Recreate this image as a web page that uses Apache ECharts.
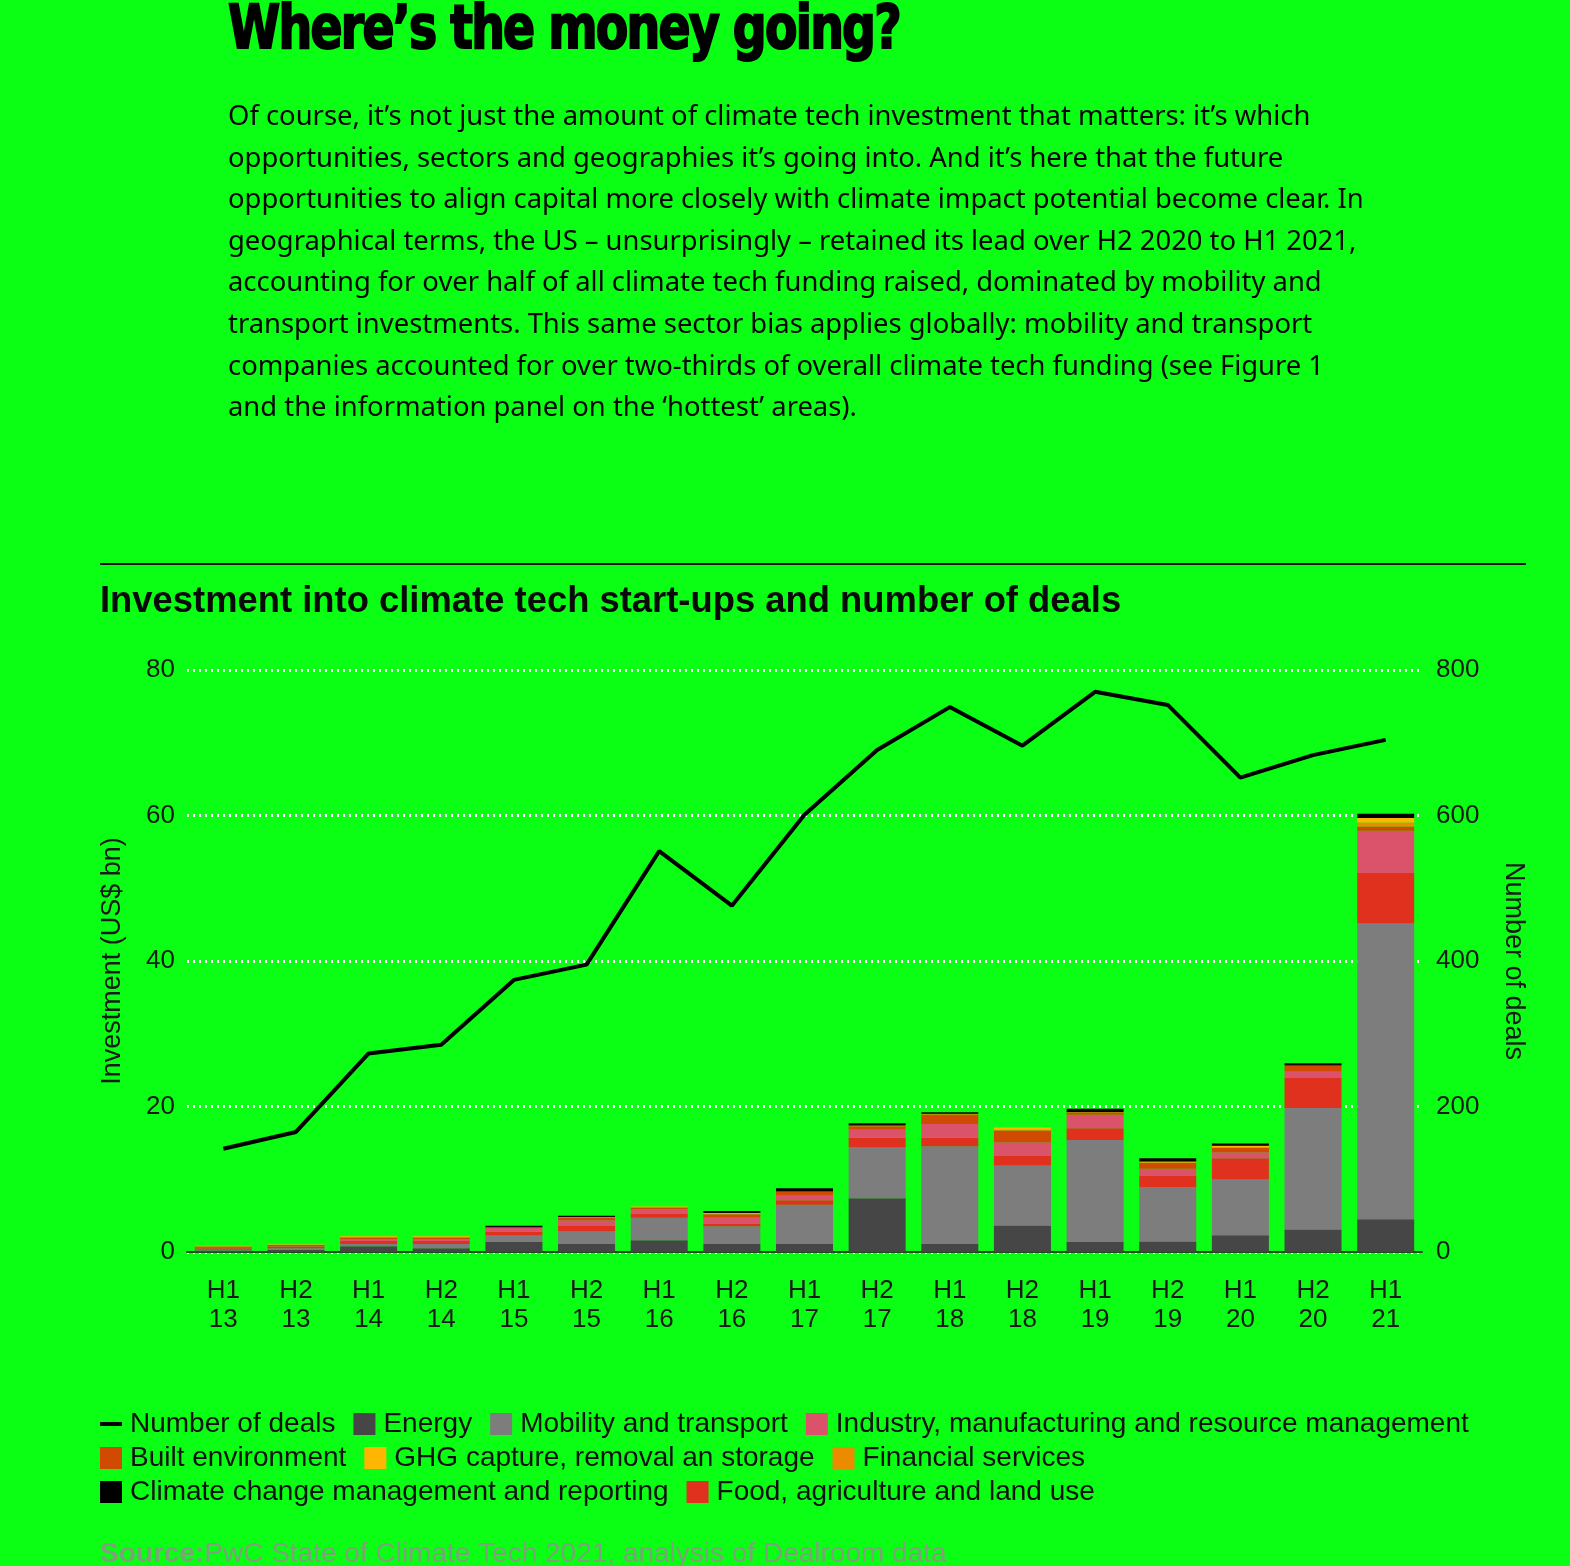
<!DOCTYPE html>
<html>
<head>
<meta charset="utf-8">
<script src="https://cdn.jsdelivr.net/npm/echarts@6/dist/echarts.min.js"></script>
<style>
  html, body { margin:0; padding:0; background:#0aff14; }
  #wrap { position:relative; width:1570px; height:1566px; overflow:hidden; background:#0aff14; }
  #chart { position:absolute; left:0; top:0; width:1570px; height:1566px; }
  #head { position:absolute; left:228px; top:-4px; font-family:"DejaVu Sans Condensed","DejaVu Sans",sans-serif; font-weight:900; font-size:61px; line-height:61px; color:#000; white-space:nowrap; transform-origin:0 0; letter-spacing:-2px; -webkit-text-stroke:2px #000; z-index:2;}
  #para { position:absolute; left:228px; top:94px; font-family:"Noto Sans",sans-serif; font-size:27.4px; line-height:41.6px; color:#050505; white-space:nowrap; z-index:2;}
</style>
</head>
<body>
<div id="wrap">
  <div id="chart"></div>
  <div id="head">Where’s the money going?</div>
  <div id="para">
    Of course, it’s not just the amount of climate tech investment that matters: it’s which<br>
    opportunities, sectors and geographies it’s going into. And it’s here that the future<br>
    opportunities to align capital more closely with climate impact potential become clear. In<br>
    geographical terms, the US – unsurprisingly – retained its lead over H2 2020 to H1 2021,<br>
    accounting for over half of all climate tech funding raised, dominated by mobility and<br>
    transport investments. This same sector bias applies globally: mobility and transport<br>
    companies accounted for over two-thirds of overall climate tech funding (see Figure 1<br>
    and the information panel on the ‘hottest’ areas).
  </div>
</div>
<script>
// ---- data ----
const halves = ['H1','H2','H1','H2','H1','H2','H1','H2','H1','H2','H1','H2','H1','H2','H1','H2','H1'];
const years  = ['13','13','14','14','15','15','16','16','17','17','18','18','19','19','20','20','21'];
const energy    = [0.2,0.3,0.8,0.5,1.4,1.15,1.6,1.15,1.15,7.4,1.15,3.65,1.4,1.45,2.3,3.1,4.5];
const mobility  = [0.1,0.2,0.3,0.6,0.9,1.7,3.1,2.4,5.36,7.0,13.4,8.25,14.0,7.5,7.7,16.7,40.7];
const food      = [0.2,0.2,0.4,0.4,0.5,0.8,0.6,0.3,0.6,1.3,1.15,1.3,1.6,1.5,2.9,4.2,6.9];
const industry  = [0.1,0.1,0.3,0.3,0.5,0.7,0.6,0.9,0.7,1.15,1.9,1.9,1.85,1.0,0.8,0.8,5.8];
const built     = [0.15,0.15,0.2,0.2,0.1,0.4,0.2,0.45,0.45,0.45,1.3,1.6,0.35,0.8,0.6,0.8,0.6];
const financial = [0.05,0.05,0.05,0.05,0,0.05,0.05,0.05,0.05,0.1,0.1,0.1,0.05,0.1,0.1,0.05,0.55];
const ghg       = [0.05,0.05,0.1,0.1,0,0,0.1,0.1,0,0,0,0.3,0,0.1,0.2,0,0.6];
const climate   = [0,0,0,0,0.2,0.2,0,0.3,0.45,0.3,0.2,0,0.45,0.45,0.3,0.3,0.6];
const deals     = [142,165,273,285,374,395,551,476,601,690,749,696,770,752,652,683,704];
const leftTicks = [0,20,40,60,80];
const rightTicks = [0,200,400,600,800];

const categories = halves.map((h,i)=>h+'\n'+years[i]);

// fit heading width
(function(){
  const h = document.getElementById('head');
  const w = h.getBoundingClientRect().width;
  h.style.transform = 'scaleX(' + (672 / w) + ')';
})();

const chart = echarts.init(document.getElementById('chart'), null, {renderer:'canvas'});
const FONT = '"Liberation Sans", Arial, sans-serif';
const cols = {
  'Energy':'#464646','Mobility and transport':'#7d7d7d',
  'Industry, manufacturing and resource management':'#db536a',
  'Built environment':'#d04a02','GHG capture, removal an storage':'#ffb600',
  'Financial services':'#eb8c00','Climate change management and reporting':'#000000',
  'Food, agriculture and land use':'#e0301e'
};
function bar(name, data){
  return {name, type:'bar', stack:'inv', data, barWidth:57, itemStyle:{color:cols[name]}, emphasis:{disabled:true}};
}
const legendBase = {left:100, padding:0, itemWidth:22, itemHeight:22, itemGap:18, icon:'rect',
  textStyle:{fontFamily:FONT, fontSize:28, color:'#111', padding:[0,0,0,3]}, selectedMode:false};
const tickStyle = {fontFamily:FONT, fontSize:26, color:'#1a1a1a'};

chart.setOption({
  backgroundColor:'transparent',
  animation:false,
  title:{text:'Investment into climate tech start-ups and number of deals', left:95, top:579,
    textStyle:{fontFamily:FONT, fontSize:36.4, fontWeight:'bold', color:'#0a0a0a'}},
  graphic:[
    {type:'line', shape:{x1:100,y1:564,x2:1526,y2:564}, style:{stroke:'#111', lineWidth:2}},
    {type:'text', left:100, top:1540, style:{
      text:'{b|Source:}PwC State of Climate Tech 2021, analysis of Dealroom data',
      rich:{b:{fontWeight:'bold', fontFamily:FONT, fontSize:28, fill:'#7fa07a'}},
      fontFamily:FONT, fontSize:28, fill:'#7fa07a'}}
  ],
  legend:[
    Object.assign({}, legendBase, {top:1410, data:[
      {name:'Number of deals', icon:'path://M0,0 M0,9 L22,9 L22,13 L0,13 Z M0,22'},
      'Energy','Mobility and transport','Industry, manufacturing and resource management']}),
    Object.assign({}, legendBase, {top:1444, data:['Built environment','GHG capture, removal an storage','Financial services']}),
    Object.assign({}, legendBase, {top:1478, data:['Climate change management and reporting','Food, agriculture and land use']})
  ],
  grid:{left:187, right:148, top:670, bottom:314},
  xAxis:{type:'category', data:categories,
    axisTick:{show:false},
    axisLine:{lineStyle:{color:'#1f4a1f', width:2}},
    axisLabel:Object.assign({}, tickStyle, {margin:24, lineHeight:29, interval:0})},
  yAxis:[
    {type:'value', min:leftTicks[0], max:leftTicks[leftTicks.length-1], interval:20,
     name:'Investment (US$ bn)', nameLocation:'middle', nameRotate:90, nameGap:61,
     nameTextStyle:{fontFamily:FONT, fontSize:27, color:'#1a1a1a'},
     axisLabel:Object.assign({}, tickStyle, {margin:12}),
     axisLine:{show:false}, axisTick:{show:false},
     splitLine:{lineStyle:{color:'#ffffff', width:3, type:[2,4]}}},
    {type:'value', min:rightTicks[0], max:rightTicks[rightTicks.length-1], interval:200,
     name:'Number of deals', nameLocation:'middle', nameRotate:-90, nameGap:78,
     nameTextStyle:{fontFamily:FONT, fontSize:27, color:'#1a1a1a'},
     axisLabel:Object.assign({}, tickStyle, {margin:14}),
     axisLine:{show:false}, axisTick:{show:false}, splitLine:{show:false}}
  ],
  series:[
    bar('Energy', energy),
    bar('Mobility and transport', mobility),
    bar('Food, agriculture and land use', food),
    bar('Industry, manufacturing and resource management', industry),
    bar('Built environment', built),
    bar('Financial services', financial),
    bar('GHG capture, removal an storage', ghg),
    bar('Climate change management and reporting', climate),
    {name:'Number of deals', type:'line', yAxisIndex:1, data:deals, symbol:'none',
     lineStyle:{color:'#000', width:4}, itemStyle:{color:'#000'}, z:5}
  ]
});
</script>
</body>
</html>
